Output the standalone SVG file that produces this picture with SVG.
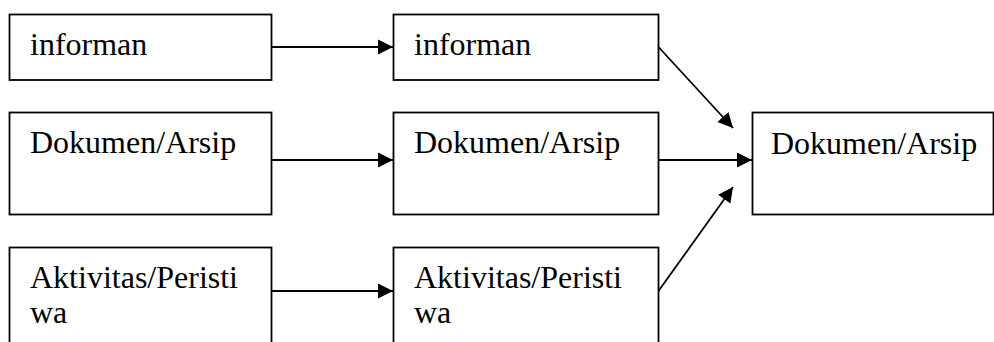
<svg xmlns="http://www.w3.org/2000/svg" width="994" height="342" viewBox="0 0 994 342">
  <style>
    .box { fill: #ffffff; stroke: #000000; stroke-width: 1.8; }
    .lbl { font-family: "Liberation Serif", "Times New Roman", Times, serif; font-size: 32px; fill: #000000; }
    .link { fill: none; stroke: #000000; stroke-width: 1.8; marker-end: url(#head); }
  </style>
  <defs>
    <marker id="head" markerUnits="userSpaceOnUse" markerWidth="16" markerHeight="16" refX="15" refY="8" orient="auto">
      <path d="M0,0.5 L15,8 L0,15.5 Z" fill="#000000"/>
    </marker>
  </defs>
  <rect width="994" height="342" fill="#ffffff"/>

  <!-- left column -->
  <g id="src-informan">
    <rect class="box" x="9.5" y="14.5" width="262" height="65.5"/>
    <text class="lbl" x="30" y="54.5">informan</text>
  </g>
  <g id="src-dokumen">
    <rect class="box" x="9.5" y="112.5" width="262" height="102"/>
    <text class="lbl" x="30" y="153">Dokumen/Arsip</text>
  </g>
  <g id="src-aktivitas">
    <rect class="box" x="9.5" y="247.5" width="262" height="110"/>
    <text class="lbl" x="30" y="288">Aktivitas/Peristi</text>
    <text class="lbl" x="30" y="323">wa</text>
  </g>

  <!-- middle column -->
  <g id="mid-informan">
    <rect class="box" x="393.5" y="14.5" width="265" height="65.5"/>
    <text class="lbl" x="414" y="54.5">informan</text>
  </g>
  <g id="mid-dokumen">
    <rect class="box" x="393.5" y="112.5" width="265" height="102"/>
    <text class="lbl" x="414" y="153">Dokumen/Arsip</text>
  </g>
  <g id="mid-aktivitas">
    <rect class="box" x="393.5" y="247.5" width="265" height="110"/>
    <text class="lbl" x="414" y="288">Aktivitas/Peristi</text>
    <text class="lbl" x="414" y="323">wa</text>
  </g>

  <!-- result -->
  <g id="result-dokumen">
    <rect class="box" x="752.5" y="112.5" width="241" height="102"/>
    <text class="lbl" x="771" y="154">Dokumen/Arsip</text>
  </g>

  <!-- connectors -->
  <g id="connectors">
    <line class="link" x1="271.5" y1="47" x2="393" y2="47"/>
    <line class="link" x1="271.5" y1="160" x2="393" y2="160"/>
    <line class="link" x1="271.5" y1="291" x2="393" y2="291"/>
    <line class="link" x1="658.5" y1="47" x2="733" y2="128"/>
    <line class="link" x1="658.5" y1="160" x2="752" y2="160"/>
    <line class="link" x1="658.5" y1="291" x2="733" y2="187"/>
  </g>
</svg>
